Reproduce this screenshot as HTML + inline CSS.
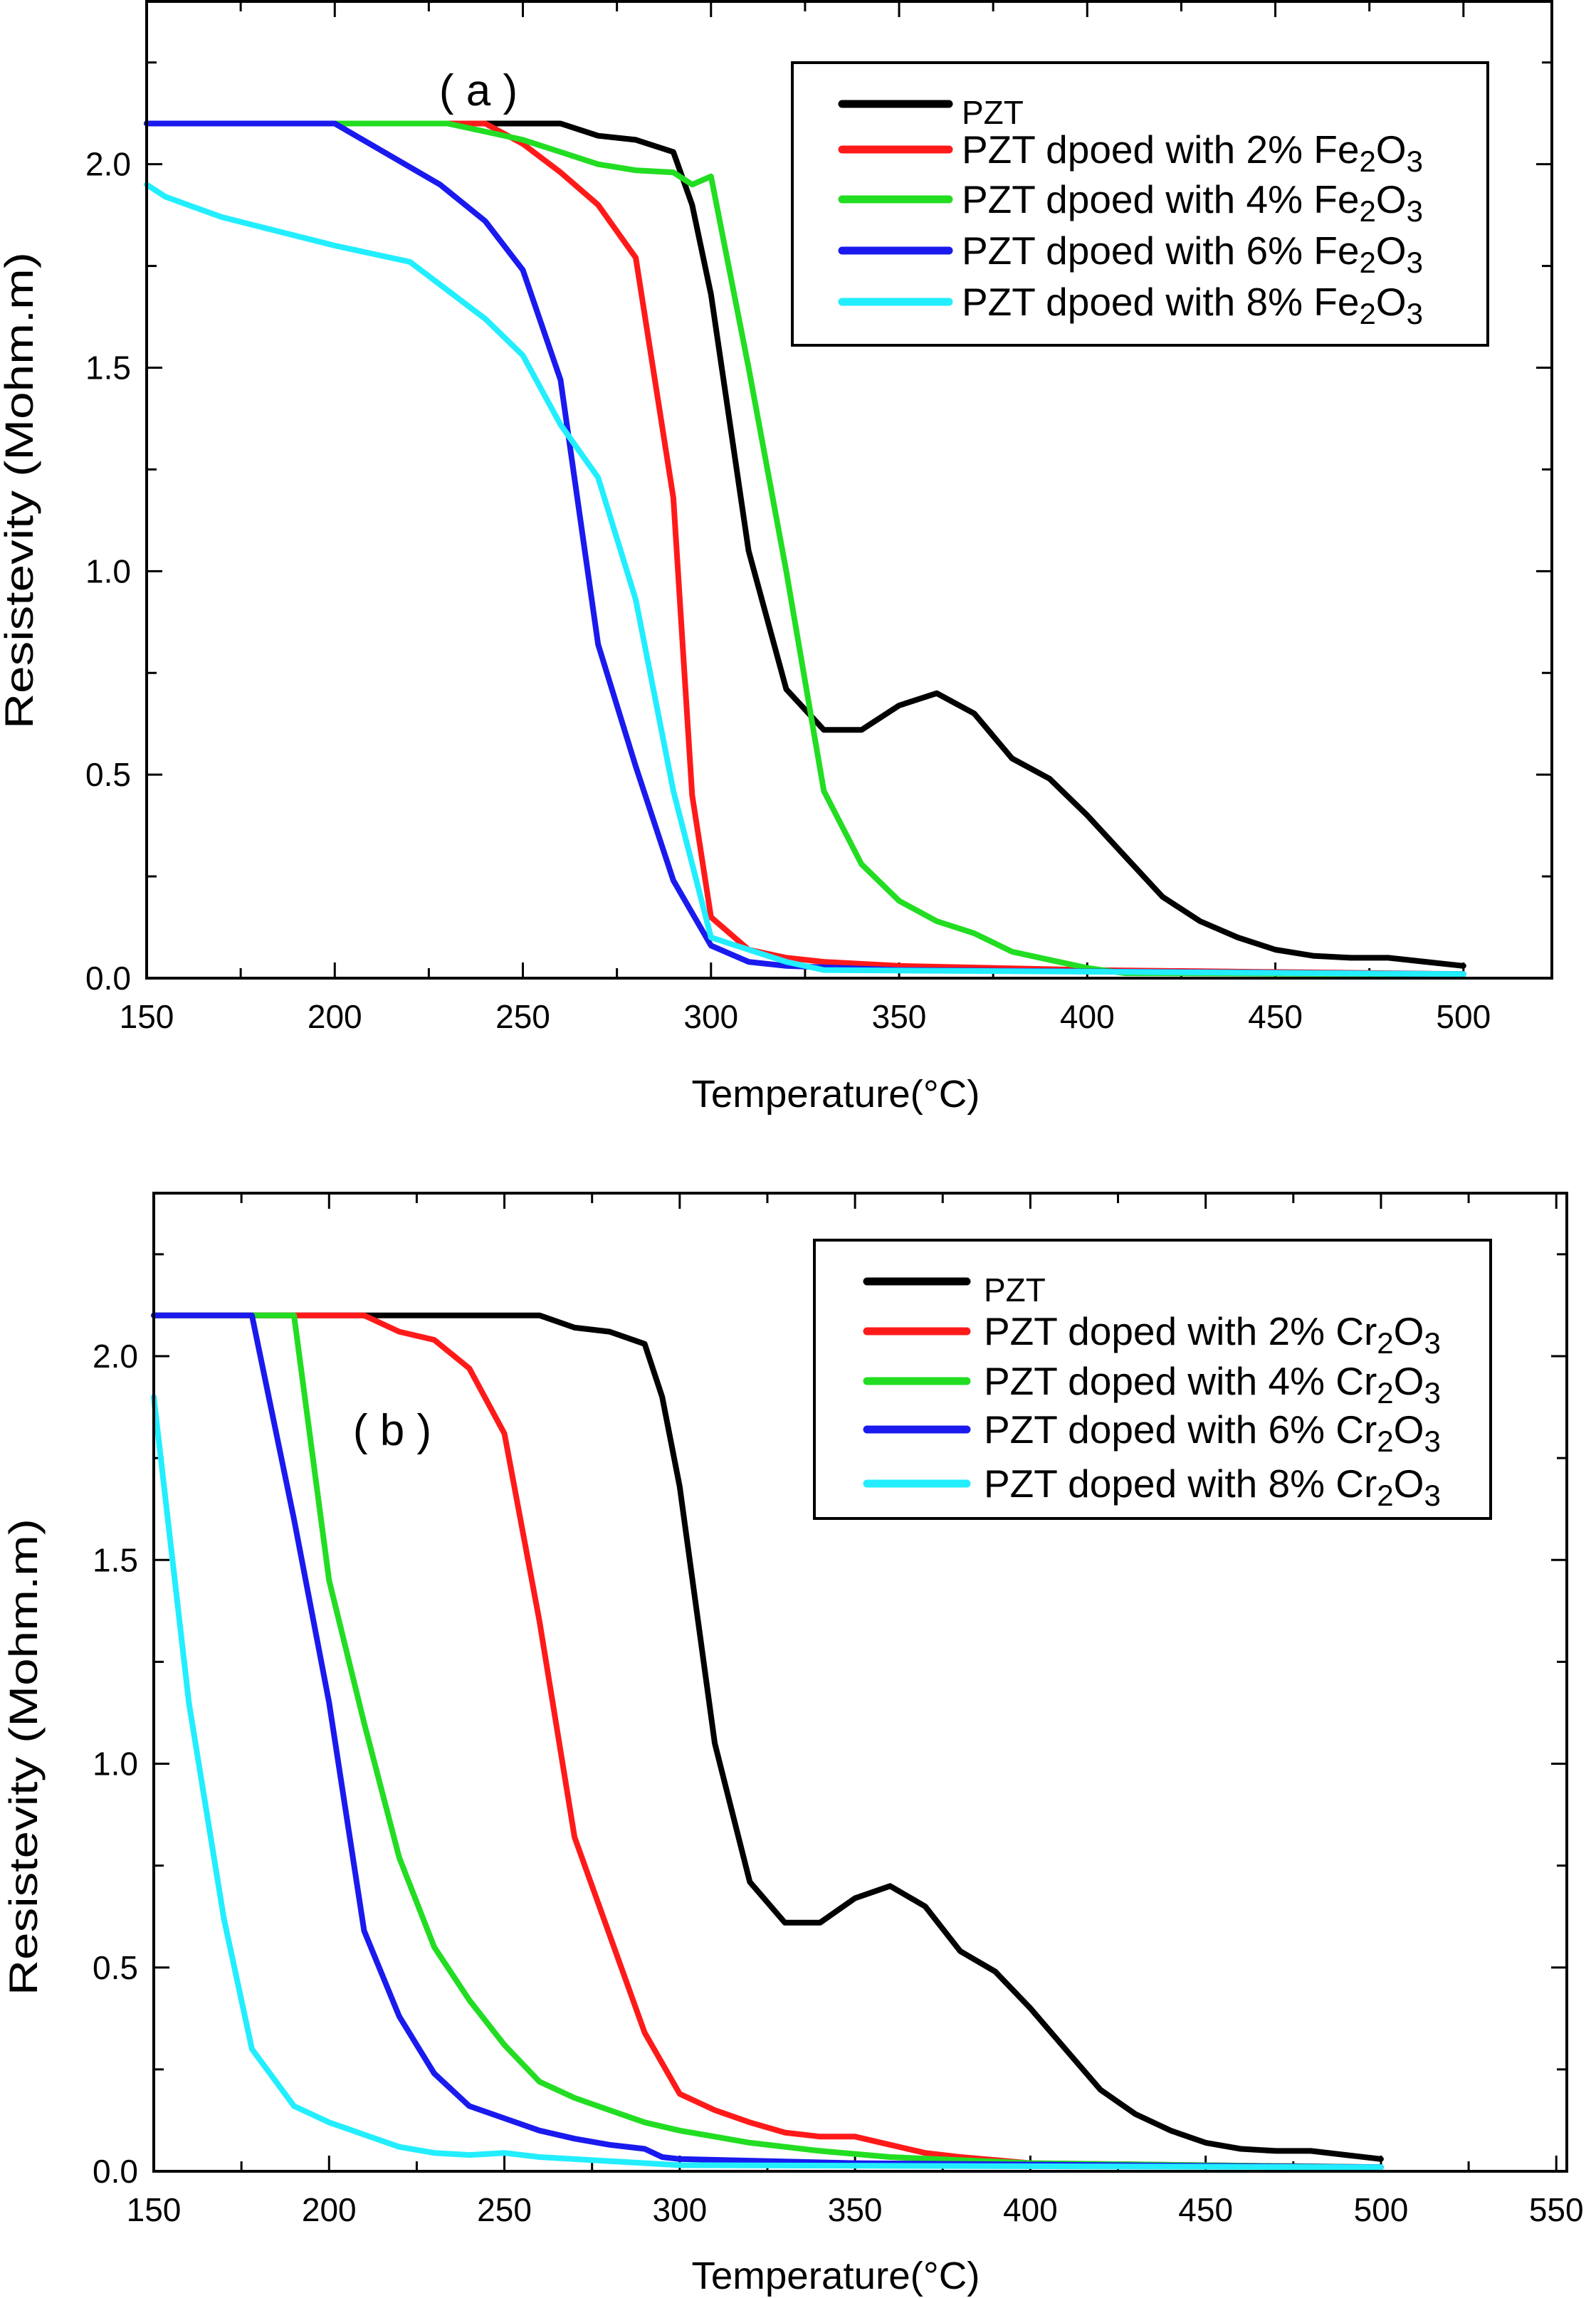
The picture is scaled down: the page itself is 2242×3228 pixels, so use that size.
<!DOCTYPE html>
<html><head><meta charset="utf-8"><style>
html,body{margin:0;padding:0;background:#fff}
svg{display:block;font-family:"Liberation Sans",Arial,sans-serif}
</style></head><body>
<svg id="chart" width="2242" height="3228" viewBox="0 0 2242 3228" xmlns="http://www.w3.org/2000/svg"></svg>
<script>
// ---- data ----
const pztT = [150,260,270,280,290,295,300,310,320,330,340,350,360,370,380,390,400,410,420,430,440,450,460,470,480,490,500];
const pztR = [2.1,2.1,2.07,2.06,2.03,1.9,1.68,1.05,0.71,0.61,0.61,0.67,0.70,0.65,0.54,0.49,0.40,0.30,0.20,0.14,0.10,0.07,0.055,0.05,0.05,0.04,0.03];

const fe2T = [150,240,250,260,270,280,290,295,300,310,320,330,350,400,500];
const fe2R = [2.1,2.1,2.05,1.98,1.90,1.77,1.18,0.45,0.15,0.07,0.05,0.04,0.03,0.02,0.01];
const fe4T = [150,230,240,250,260,270,280,290,295,300,310,320,330,340,350,360,370,380,390,400,410,500];
const fe4R = [2.1,2.1,2.08,2.06,2.03,2.0,1.985,1.98,1.95,1.97,1.5,1.0,0.46,0.28,0.19,0.14,0.11,0.065,0.045,0.025,0.012,0.01];
const fe6T = [150,200,228,240,250,260,270,280,290,300,310,320,350,500];
const fe6R = [2.1,2.1,1.95,1.86,1.74,1.47,0.82,0.52,0.24,0.08,0.04,0.03,0.02,0.01];
const fe8T = [150,155,170,200,220,240,250,260,270,280,290,300,310,320,330,500];
const fe8R = [1.95,1.92,1.87,1.80,1.76,1.62,1.53,1.36,1.23,0.93,0.46,0.10,0.07,0.04,0.02,0.01];

const cr2T = [150,210,220,230,240,250,260,270,280,290,300,310,320,330,340,350,360,370,380,400,500];
const cr2R = [2.1,2.1,2.06,2.04,1.97,1.81,1.35,0.82,0.58,0.34,0.19,0.15,0.12,0.095,0.085,0.085,0.065,0.045,0.035,0.02,0.01];
const cr4T = [150,190,200,210,220,230,240,250,260,270,280,290,300,320,340,360,400,500];
const cr4R = [2.1,2.1,1.45,1.10,0.77,0.55,0.42,0.31,0.22,0.18,0.15,0.12,0.10,0.07,0.05,0.035,0.02,0.01];
const cr6T = [150,178,190,200,210,220,230,240,250,260,270,280,290,295,300,350,500];
const cr6R = [2.1,2.1,1.6,1.15,0.59,0.38,0.24,0.16,0.13,0.10,0.08,0.065,0.055,0.035,0.03,0.02,0.01];
const cr8T = [150,160,170,178,190,200,210,220,230,240,250,260,280,300,500];
const cr8R = [1.9,1.15,0.62,0.3,0.16,0.12,0.09,0.06,0.045,0.04,0.045,0.035,0.025,0.015,0.01];

const xTicksA = [150,200,250,300,350,400,450,500];
const xTicksB = [150,200,250,300,350,400,450,500,550];
const yTicks = [0.0,0.5,1.0,1.5,2.0];

const NS = "http://www.w3.org/2000/svg";
const svg = document.getElementById('chart');
function el(tag, attrs, parent){const e=document.createElementNS(NS,tag);for(const k in attrs)e.setAttribute(k,attrs[k]);(parent||svg).appendChild(e);return e;}

function panel(p){
  const g = el('g',{});
  
  
  const X = t => p.left + (t - p.xmin) / (p.xmax - p.xmin) * (p.right - p.left);
  const Y = v => p.bottom - (v - 0) / (p.ymax - 0) * (p.bottom - p.top);
  for(let t=p.xmin; t<=p.xmax+0.01; t+=25){
    const major = (t % 50 === 0);
    const len = major ? 22 : 14;
    const a = el('line',{x1:X(t),x2:X(t),y1:p.bottom,y2:p.bottom-len,stroke:'#000','stroke-width':3},g);
    
    
    el('line',{x1:X(t),x2:X(t),y1:p.top,y2:p.top+len,stroke:'#000','stroke-width':3},g);
  }
  for(let v=0; v<=p.ymax+0.001; v+=0.25){
    const major = Math.abs(v*2 - Math.round(v*2))<0.01;
    const len = major ? 22 : 14;
    const a = el('line',{x1:p.left,x2:p.left+len,y1:Y(v),y2:Y(v),stroke:'#000','stroke-width':3},g);
    
    
    el('line',{x1:p.right,x2:p.right-len,y1:Y(v),y2:Y(v),stroke:'#000','stroke-width':3},g);
  }
  p.xTicks.forEach(t=>{
    const tx = el('text',{x:X(t),y:p.bottom+70,'font-size':46,'text-anchor':'middle',fill:'#000'},g);
    tx.textContent = t;
    
    
  });
  yTicks.forEach(v=>{
    const tx = el('text',{x:p.left-22,y:Y(v)+16,'font-size':46,'text-anchor':'end',fill:'#000'},g);
    tx.textContent = v.toFixed(1);
    
    
  });
  p.series.forEach(s=>{
    const d = s.t.map((t,i)=>(i?'L':'M')+X(t).toFixed(1)+','+Y(s.r[i]).toFixed(1)).join('');
    const path = el('path',{d:d,fill:'none',stroke:s.color,'stroke-width':8,'stroke-linejoin':'round','stroke-linecap':'round'},g);
    
    
  });
  const fr = el('rect',{x:p.left,y:p.top,width:p.right-p.left,height:p.bottom-p.top,fill:'none',stroke:'#000','stroke-width':4},g);
  
  
  const xt = el('text',{x:p.xTitle[0],y:p.xTitle[1],'font-size':54,'text-anchor':'middle',fill:'#000',textLength:405,lengthAdjust:'spacingAndGlyphs'},g);
  xt.textContent = 'Temperature(°C)';
  
  
  const yt = el('text',{x:0,y:0,'font-size':56,'text-anchor':'middle',fill:'#000',textLength:670,lengthAdjust:'spacingAndGlyphs',transform:`translate(${p.yTitle[0]},${p.yTitle[1]}) rotate(-90)`},g);
  yt.textContent = 'Resistevity (Mohm.m)';
  
  
  const lab = el('text',{x:p.label[0],y:p.label[1],'font-size':62,'text-anchor':'middle',fill:'#000'},g);
  lab.textContent = p.labelText;
  
  
  const L = p.legend;
  const lb = el('rect',{x:L.x,y:L.y,width:L.w,height:L.h,fill:'#fff',stroke:'#000','stroke-width':4},g);
  
  
  p.series.forEach((s,i)=>{
    const yy = L.rows[i];
    const ln = el('line',{x1:L.lx1,x2:L.lx2,y1:yy,y2:yy,stroke:s.color,'stroke-width':11,'stroke-linecap':'round'},g);
    
    
    const tx = el('text',{x:L.tx,y:yy+19,'font-size':i===0?46:55,fill:'#000'},g);
    
    
    if(i===0){ tx.textContent='PZT'; tx.setAttribute('y', yy+28); }
    else {
      const parts = [[s.pre,0],[s.m1,0],['2',1],['O',0],['3',1]];
      parts.forEach(([txt,sub])=>{
        const ts = el('tspan',{},tx);
        if(sub){ts.setAttribute('font-size',42);ts.setAttribute('dy',12);}
        else if(txt==='O'){ts.setAttribute('dy',-12);}
        ts.textContent = txt;
      });
    }
  });
}

panel({
  name:'panel-a-fe2o3', left:206, right:2180, top:2, bottom:1374, xmin:150, xmax:523.5, ymax:2.4,
  xTicks:xTicksA, xTitle:[1174,1555], yTitle:[46,689], label:[672,148], labelText:'( a )',
  legend:{x:1113,y:88,w:977,h:397,lx1:1183,lx2:1333,tx:1351,rows:[146,210,280,352,424]},
  series:[
    {name:'pzt-line',t:pztT,r:pztR,color:'#000000'},
    {name:'fe2o3-2pct-line',t:fe2T,r:fe2R,color:'#ff1a1a',pre:'PZT dpoed with 2% ',m1:'Fe'},
    {name:'fe2o3-4pct-line',t:fe4T,r:fe4R,color:'#22dd22',pre:'PZT dpoed with 4% ',m1:'Fe'},
    {name:'fe2o3-6pct-line',t:fe6T,r:fe6R,color:'#1a1aee',pre:'PZT dpoed with 6% ',m1:'Fe'},
    {name:'fe2o3-8pct-line',t:fe8T,r:fe8R,color:'#22eeff',pre:'PZT dpoed with 8% ',m1:'Fe'}
  ]
});
panel({
  name:'panel-b-cr2o3', left:216, right:2201, top:1676, bottom:3050, xmin:150, xmax:553, ymax:2.4,
  xTicks:xTicksB, xTitle:[1174,3215], yTitle:[52,2468], label:[551,2030], labelText:'( b )',
  legend:{x:1144,y:1742,w:950,h:391,lx1:1218,lx2:1358,tx:1382,rows:[1800,1870,1940,2008,2084]},
  series:[
    {name:'pzt-line',t:pztT,r:pztR,color:'#000000'},
    {name:'cr2o3-2pct-line',t:cr2T,r:cr2R,color:'#ff1a1a',pre:'PZT doped with 2% ',m1:'Cr'},
    {name:'cr2o3-4pct-line',t:cr4T,r:cr4R,color:'#22dd22',pre:'PZT doped with 4% ',m1:'Cr'},
    {name:'cr2o3-6pct-line',t:cr6T,r:cr6R,color:'#1a1aee',pre:'PZT doped with 6% ',m1:'Cr'},
    {name:'cr2o3-8pct-line',t:cr8T,r:cr8R,color:'#22eeff',pre:'PZT doped with 8% ',m1:'Cr'}
  ]
});
</script>
</body></html>
